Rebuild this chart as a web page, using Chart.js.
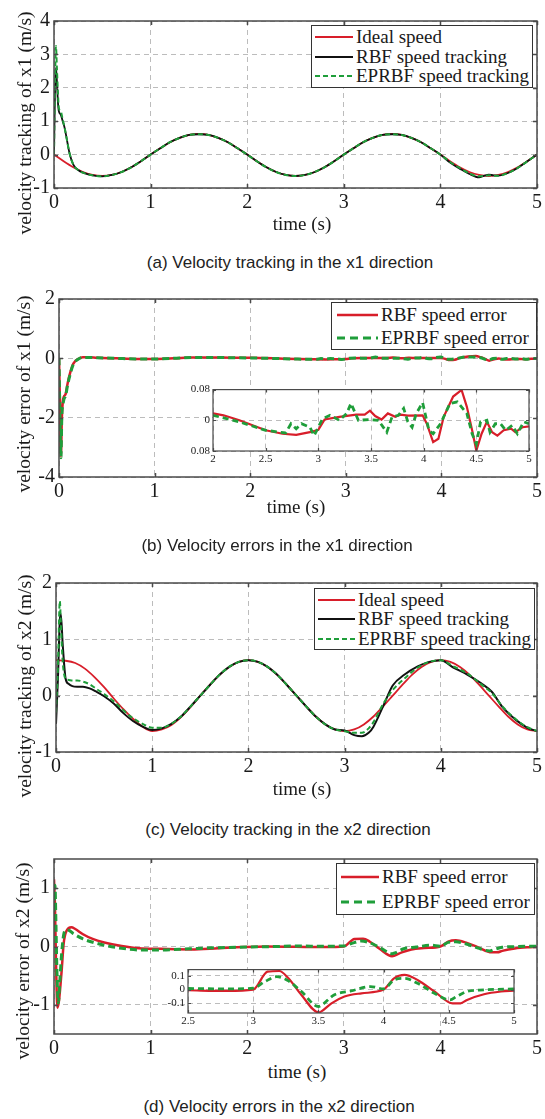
<!DOCTYPE html>
<html>
<head>
<meta charset="utf-8">
<script src="https://cdn.jsdelivr.net/npm/chart.js@4.4.0/dist/chart.umd.min.js"></script>
<style>
  body { margin: 0; background: #fff; }
  #page { position: relative; width: 545px; height: 1119px; overflow: hidden; font-family: "Liberation Serif", "Times New Roman", serif; color: #1a1a1a; }
  canvas { position: absolute; }
  .ttl { position: absolute; font-size: 19px; white-space: nowrap; transform: translate(-50%, -50%); }
  .ttl.y { font-size: 19.5px; transform: translate(-50%, -50%) rotate(-90deg); }
  .cap { position: absolute; font-family: "Liberation Sans", Arial, sans-serif; font-size: 17px; white-space: nowrap; transform: translate(-50%, -50%); color: #222; }
  .legend { position: absolute; box-sizing: border-box; border: 1.5px solid #333; background: #fff; display: flex; flex-direction: column; justify-content: center; }
  .legend .row { display: flex; align-items: center; font-size: 19px; white-space: nowrap; }
  .legend svg { flex: none; }
</style>
</head>
<body>
<div id="page">
  <canvas id="chartA"></canvas>
  <canvas id="chartB"></canvas>
  <canvas id="chartC"></canvas>
  <canvas id="chartD"></canvas>
  <canvas id="insetB"></canvas>
  <canvas id="insetD"></canvas>

  <div class="ttl y" style="left:25px;top:123px">velocity tracking of x1 (m/s)</div>
  <div class="ttl" style="left:302px;top:224px">time (s)</div>
  <div class="cap" style="left:290px;top:263px">(a) Velocity tracking in the x1 direction</div>

  <div class="ttl y" style="left:24px;top:394px">velocity error of x1 (m/s)</div>
  <div class="ttl" style="left:296px;top:507px">time (s)</div>
  <div class="cap" style="left:277px;top:546px">(b) Velocity errors in the x1 direction</div>

  <div class="ttl y" style="left:25px;top:686px">velocity tracking of x2 (m/s)</div>
  <div class="ttl" style="left:302px;top:789px">time (s)</div>
  <div class="cap" style="left:288px;top:830px">(c) Velocity tracking in the x2 direction</div>

  <div class="ttl y" style="left:23px;top:961px">velocity error of x2 (m/s)</div>
  <div class="ttl" style="left:297px;top:1072px">time (s)</div>
  <div class="cap" style="left:279px;top:1107px">(d) Velocity errors in the x2 direction</div>
</div>

<script>
'use strict';

const FONT = "'Liberation Serif', 'Times New Roman', serif";
const RED = '#d81e2a';
const GREEN = '#1f9e3a';
const BLACK = '#111111';

// Společné osy
const xTicksMain = [0, 1, 2, 3, 4, 5];
const xLabelsMain = ['0', '1', '2', '3', '4', '5'];

// ---------- (a) rychlost x1 ----------
const yTicksA = [-1, 0, 1, 2, 3, 4];
const yLabelsA = ['-1', '0', '1', '2', '3', '4'];

const tIdealA = [0, 0.1, 0.2, 0.3, 0.4, 0.5, 0.6, 0.7, 0.8, 0.9,
  1, 1.1, 1.2, 1.3, 1.4, 1.5, 1.6, 1.7, 1.8, 1.9,
  2, 2.1, 2.2, 2.3, 2.4, 2.5, 2.6, 2.7, 2.8, 2.9,
  3, 3.1, 3.2, 3.3, 3.4, 3.5, 3.6, 3.7, 3.8, 3.9,
  4, 4.1, 4.2, 4.3, 4.4, 4.5, 4.6, 4.7, 4.8, 4.9, 5];
const idealA = [0, -0.2, -0.38, -0.52, -0.61, -0.64, -0.61, -0.52, -0.38, -0.2,
  0, 0.19, 0.37, 0.5, 0.59, 0.62, 0.59, 0.5, 0.37, 0.19,
  0, -0.2, -0.38, -0.52, -0.61, -0.64, -0.61, -0.52, -0.38, -0.2,
  0, 0.19, 0.37, 0.5, 0.59, 0.62, 0.59, 0.5, 0.37, 0.19,
  0, -0.2, -0.38, -0.52, -0.61, -0.64, -0.61, -0.52, -0.38, -0.2, 0];

const tTrackA = [0, 0.01, 0.02, 0.03, 0.04, 0.05, 0.07, 0.09, 0.11, 0.13, 0.16, 0.2, 0.25, 0.3, 0.4, 0.5,
  0.6, 0.7, 0.8, 0.9,
  1, 1.1, 1.2, 1.3, 1.4, 1.5, 1.6, 1.7, 1.8, 1.9,
  2, 2.1, 2.2, 2.3, 2.4, 2.5, 2.6, 2.7, 2.8, 2.9,
  3, 3.1, 3.2, 3.3, 3.4, 3.5, 3.6, 3.7, 3.8, 3.9,
  4, 4.1, 4.2, 4.3, 4.4, 4.45, 4.5, 4.55, 4.6, 4.7, 4.8, 4.9, 5];
const rbfA = [0, 1.8, 2.6, 2.2, 1.6, 1.3, 1.2, 1.0, 0.8, 0.5, 0.05, -0.3, -0.46, -0.54, -0.62, -0.65,
  -0.61, -0.52, -0.38, -0.2,
  0, 0.19, 0.37, 0.5, 0.59, 0.61, 0.59, 0.5, 0.37, 0.19,
  0, -0.2, -0.38, -0.52, -0.61, -0.64, -0.61, -0.52, -0.38, -0.2,
  0, 0.19, 0.37, 0.5, 0.59, 0.61, 0.59, 0.5, 0.37, 0.19,
  0, -0.24, -0.42, -0.58, -0.68, -0.64, -0.6, -0.62, -0.63, -0.55, -0.4, -0.2, 0];
const eprbfA = [0, 2.0, 3.25, 2.6, 1.9, 1.4, 1.3, 1.05, 0.8, 0.5, 0.05, -0.3, -0.46, -0.54, -0.62, -0.65,
  -0.61, -0.52, -0.38, -0.2,
  0, 0.19, 0.37, 0.5, 0.59, 0.61, 0.59, 0.5, 0.37, 0.19,
  0, -0.2, -0.38, -0.52, -0.61, -0.64, -0.61, -0.52, -0.38, -0.2,
  0, 0.19, 0.37, 0.5, 0.59, 0.61, 0.59, 0.5, 0.37, 0.19,
  0, -0.22, -0.4, -0.56, -0.65, -0.64, -0.62, -0.63, -0.63, -0.55, -0.4, -0.2, 0];

// ---------- (b) chyba x1 ----------
const yTicksB = [-4, -2, 0, 2];
const yLabelsB = ['-4', '-2', '0', '2'];

const tErrEarlyB = [0, 0.01, 0.02, 0.03, 0.04, 0.05, 0.07, 0.09, 0.12, 0.15, 0.2, 0.25, 0.3, 0.4, 0.6, 0.8, 1.0, 1.2, 1.4, 1.6, 1.8];
const rbfErrEarlyB = [0, -1.5, -3.3, -2.0, -1.45, -1.3, -1.2, -0.85, -0.45, -0.18, -0.02, 0.04, 0.04, 0.02, 0, -0.02, -0.02, 0, 0.03, 0.03, 0.02];
const eprbfErrEarlyB = [0, -2.0, -3.35, -1.9, -1.6, -1.4, -1.25, -0.9, -0.5, -0.2, -0.03, 0.03, 0.03, 0.02, 0, -0.02, -0.02, 0, 0.03, 0.03, 0.02];

// výřez 2 až 5 s
const tRbfLateB = [2, 2.1, 2.25, 2.5, 2.66, 2.79, 2.92, 3.0,
  3.06, 3.2, 3.36, 3.44, 3.49, 3.54, 3.6, 3.66, 3.73, 3.78, 3.85, 3.99,
  4.03, 4.09, 4.14, 4.19, 4.28, 4.36, 4.41, 4.46, 4.5, 4.55, 4.6, 4.65, 4.7, 4.76, 4.83, 4.87, 4.94, 5];
const rbfErrLateB = [0.018, 0.013, 0, -0.026, -0.035, -0.038, -0.031, -0.025,
  0.002, 0.009, 0.015, 0.015, 0.025, 0.011, 0.002, 0.018, 0.009, 0.015, 0.012, 0.013,
  -0.009, -0.057, -0.048, 0.009, 0.062, 0.079, 0.035, -0.026, -0.079, -0.035, -0.004, -0.031, -0.04, -0.026, -0.022, -0.031, -0.018, -0.016];
const tEprbfLateB = [2, 2.25, 2.5, 2.69, 2.74, 2.79, 2.84, 2.92, 2.96,
  3.04, 3.11, 3.2, 3.27, 3.31, 3.38, 3.49, 3.57, 3.65, 3.7, 3.76, 3.81, 3.85, 3.89, 3.93, 3.99,
  4.05, 4.09, 4.16, 4.25, 4.32, 4.41, 4.46, 4.5, 4.54, 4.6, 4.63, 4.68, 4.73, 4.78, 4.84, 4.89, 4.95, 5];
const eprbfErrLateB = [0.013, -0.004, -0.026, -0.033, -0.009, -0.022, -0.009, -0.018, -0.04,
  0.004, 0.013, 0, 0.018, 0.044, 0, 0.002, 0, -0.031, 0.009, 0.013, 0.031, -0.004, -0.018, 0.018, 0.046,
  -0.026, -0.035, -0.009, 0.044, 0.048, 0.018, -0.035, -0.062, -0.004, 0, -0.031, -0.009, -0.009, -0.026, -0.013, -0.035, -0.004, -0.009];

const xTicksInsetB = [2, 2.5, 3, 3.5, 4, 4.5, 5];
const xLabelsInsetB = ['2', '2.5', '3', '3.5', '4', '4.5', '5'];
const yTicksInsetB = [-0.08, 0, 0.08];
const yLabelsInsetB = ['0.08', '0', '0.08'];

// ---------- (c) rychlost x2 ----------
const yTicksC = [-1, 0, 1, 2];
const yLabelsC = ['-1', '0', '1', '2'];

const tIdealC = tIdealA;
const idealC = [0.63, 0.62, 0.58, 0.48, 0.33, 0.15, -0.05, -0.24, -0.41, -0.55,
  -0.63, -0.6, -0.52, -0.38, -0.2, 0, 0.19, 0.37, 0.51, 0.6,
  0.63, 0.6, 0.51, 0.37, 0.19, 0, -0.19, -0.37, -0.51, -0.6,
  -0.63, -0.6, -0.51, -0.37, -0.19, 0, 0.19, 0.37, 0.51, 0.6,
  0.63, 0.6, 0.51, 0.37, 0.19, 0, -0.19, -0.37, -0.51, -0.6, -0.63];

const tTrackC = [0, 0.02, 0.04, 0.05, 0.07, 0.1, 0.13, 0.17, 0.22, 0.28, 0.35, 0.42, 0.5,
  0.6, 0.7, 0.8, 0.9, 1.0,
  1.1, 1.2, 1.3, 1.4, 1.5, 1.6, 1.7, 1.8, 1.9, 2.0,
  2.1, 2.2, 2.3, 2.4, 2.5, 2.6, 2.7, 2.8, 2.9, 3.0,
  3.1, 3.18, 3.25, 3.3, 3.4, 3.5, 3.62, 3.76, 3.88, 4.0,
  4.13, 4.27, 4.42, 4.53, 4.64, 4.78, 4.9, 5.0];
const rbfC = [-0.5, 0.3, 1.35, 1.45, 0.9, 0.3, 0.21, 0.17, 0.16, 0.16, 0.13, 0.07, -0.01,
  -0.14, -0.31, -0.45, -0.55, -0.61,
  -0.58, -0.5, -0.37, -0.19, 0, 0.19, 0.37, 0.51, 0.6, 0.63,
  0.6, 0.51, 0.37, 0.19, 0, -0.19, -0.37, -0.51, -0.6, -0.62,
  -0.7, -0.72, -0.66, -0.55, -0.19, 0.18, 0.37, 0.52, 0.6, 0.63,
  0.5, 0.38, 0.22, 0.07, -0.2, -0.43, -0.57, -0.63];
const eprbfC = [-0.3, 0.5, 1.68, 1.3, 0.6, 0.3, 0.28, 0.27, 0.27, 0.25, 0.2, 0.12, 0.03,
  -0.1, -0.26, -0.4, -0.5, -0.57,
  -0.57, -0.5, -0.37, -0.19, 0, 0.19, 0.37, 0.51, 0.6, 0.63,
  0.6, 0.51, 0.37, 0.19, 0, -0.19, -0.37, -0.51, -0.6, -0.63,
  -0.66, -0.66, -0.58, -0.47, -0.15, 0.1, 0.3, 0.5, 0.6, 0.63,
  0.52, 0.4, 0.2, 0.05, -0.19, -0.42, -0.56, -0.63];

// ---------- (d) chyba x2 ----------
const yTicksD = [-1, 0, 1];
const yLabelsD = ['-1', '0', '1'];

const tRbfEarlyD = [0, 0.01, 0.02, 0.035, 0.05, 0.065, 0.08, 0.1, 0.13, 0.18, 0.22, 0.3, 0.4, 0.52, 0.7, 0.88, 1.1, 1.42, 1.7, 1.96, 2.2];
const rbfErrEarlyD = [1.15, 0.7, -0.2, -1.05, -0.95, -0.7, -0.4, 0.05, 0.27, 0.33, 0.3, 0.21, 0.13, 0.07, 0.01, -0.03, -0.04, -0.05, -0.03, -0.01, 0];
const tEprbfEarlyD = [0, 0.01, 0.02, 0.03, 0.045, 0.06, 0.08, 0.1, 0.12, 0.15, 0.2, 0.3, 0.5, 0.7, 0.9, 1.1, 1.4, 1.7, 2.0, 2.3];
const eprbfErrEarlyD = [0.6, 1.05, 0.4, -0.4, -0.97, -0.6, -0.1, 0.2, 0.28, 0.28, 0.22, 0.13, 0.03, -0.03, -0.06, -0.06, -0.04, -0.02, -0.01, 0];

// výřez 2.5 až 5 s
const tRbfLateD = [2.5, 2.8, 3.0, 3.11, 3.2, 3.27, 3.37, 3.5, 3.52, 3.6, 3.7, 3.83, 4.0, 4.08, 4.16, 4.26, 4.39, 4.53, 4.59, 4.64, 4.77, 4.9, 5];
const rbfErrLateD = [-0.005, -0.01, 0.0, 0.13, 0.135, 0.082, -0.039, -0.165, -0.16, -0.1, -0.05, -0.027, 0.0, 0.082, 0.106, 0.07, -0.014, -0.1, -0.1, -0.075, -0.034, -0.014, -0.007];
const tEprbfLateD = [2.5, 2.8, 3.0, 3.09, 3.18, 3.27, 3.37, 3.5, 3.53, 3.62, 3.75, 3.9, 4.0, 4.08, 4.16, 4.26, 4.39, 4.51, 4.56, 4.64, 4.77, 5];
const eprbfErrLateD = [0.008, 0.005, 0.01, 0.058, 0.094, 0.063, -0.014, -0.123, -0.11, -0.039, -0.01, 0.022, 0.005, 0.07, 0.082, 0.046, -0.027, -0.075, -0.05, -0.014, -0.002, 0.005];

const xTicksInsetD = [2.5, 3, 3.5, 4, 4.5, 5];
const xLabelsInsetD = ['2.5', '3', '3.5', '4', '4.5', '5'];
const yTicksInsetD = [-0.1, 0, 0.1];
const yLabelsInsetD = ['-0.1', '0', '0.1'];

// ---------- pomocné funkce ----------
const pts = (ts, vs) => ts.map((t, i) => ({ x: t, y: vs[i] }));

// order: nižší číslo = kreslí se navrch
function series(label, ts, vs, color, width, dash, order, smooth = true) {
  return {
    label, data: pts(ts, vs), order: order,
    borderColor: color, borderWidth: width, borderDash: dash || [],
    pointRadius: 0, showLine: true, fill: false,
    cubicInterpolationMode: smooth ? 'monotone' : 'default', tension: 0
  };
}

// Rámeček os ve stylu Matlabu (bílé pozadí, obrys, vnitřní značky)
const framePlugin = {
  id: 'matlabFrame',
  beforeDraw: (chart) => {
    const a = chart.chartArea, ctx = chart.ctx;
    ctx.save();
    ctx.fillStyle = '#ffffff';
    ctx.fillRect(a.left, a.top, a.right - a.left, a.bottom - a.top);
    ctx.restore();
  },
  afterDraw: (chart, args, opts) => {
    const a = chart.chartArea, ctx = chart.ctx;
    const tl = opts.tick || 4;
    const sx = chart.scales.x, sy = chart.scales.y;
    ctx.save();
    ctx.strokeStyle = '#4a4a4a';
    ctx.lineWidth = opts.width || 1.5;
    ctx.beginPath();
    sx.ticks.forEach(t => {
      const px = Math.round(sx.getPixelForValue(t.value)) + 0.5;
      ctx.moveTo(px, a.bottom); ctx.lineTo(px, a.bottom - tl);
      ctx.moveTo(px, a.top); ctx.lineTo(px, a.top + tl);
    });
    sy.ticks.forEach(t => {
      const py = Math.round(sy.getPixelForValue(t.value)) + 0.5;
      ctx.moveTo(a.left, py); ctx.lineTo(a.left + tl, py);
      ctx.moveTo(a.right, py); ctx.lineTo(a.right - tl, py);
    });
    ctx.stroke();
    ctx.strokeRect(a.left, a.top, a.right - a.left, a.bottom - a.top);
    ctx.restore();
  }
};

function axis(min, max, ticks, labels, fontSize, pad, fit) {
  return {
    type: 'linear', min: min, max: max,
    afterBuildTicks: (s) => { s.ticks = ticks.map(v => ({ value: v })); },
    afterFit: fit,
    ticks: {
      autoSkip: false, maxRotation: 0, padding: pad, color: '#1a1a1a',
      font: { family: FONT, size: fontSize },
      callback: (v, i) => labels[i]
    },
    grid: { color: '#bcbcbc', lineWidth: 1, drawTicks: false },
    border: { display: false, dash: [5, 4] }
  };
}

// box = poloha plátna na stránce, area = požadovaná plocha grafu
function makeChart(id, box, area, xs, ys, datasets, look) {
  const cv = document.getElementById(id);
  cv.width = box.w; cv.height = box.h;
  cv.style.left = box.x + 'px'; cv.style.top = box.y + 'px';
  return new Chart(cv, {
    type: 'scatter',
    data: { datasets: datasets },
    options: {
      responsive: false, animation: false, devicePixelRatio: 1,
      layout: { padding: { left: 0, top: area.t - box.y, right: box.x + box.w - area.r, bottom: 0 } },
      plugins: {
        legend: { display: false },
        tooltip: { enabled: false },
        matlabFrame: { width: look.frame, tick: look.tick }
      },
      scales: {
        x: axis(xs.min, xs.max, xs.ticks, xs.labels, look.font, look.xpad, (s) => { s.height = box.y + box.h - area.b; }),
        y: axis(ys.min, ys.max, ys.ticks, ys.labels, look.font, look.ypad, (s) => { s.width = area.l - box.x; })
      }
    },
    plugins: [framePlugin]
  });
}

// Legenda jako HTML (skutečný text)
function addLegend(box, rowH, sample, items) {
  const page = document.getElementById('page');
  const div = document.createElement('div');
  div.className = 'legend';
  Object.assign(div.style, { left: box.l + 'px', top: box.t + 'px', width: (box.r - box.l) + 'px', height: (box.b - box.t) + 'px' });
  items.forEach(it => {
    const row = document.createElement('div');
    row.className = 'row';
    row.style.height = rowH + 'px';
    const w = sample.off + sample.len;
    row.innerHTML = `<svg width="${w + sample.gap}" height="8"><line x1="${sample.off}" y1="4" x2="${w}" y2="4" stroke="${it.color}" stroke-width="${it.width}" stroke-dasharray="${it.dash || 'none'}"/></svg><span>${it.text}</span>`;
    div.appendChild(row);
  });
  page.appendChild(div);
}

const mainLook = { font: 20, xpad: 3, ypad: 4, frame: 1.5, tick: 4 };
const insetLook = { font: 11, xpad: 2, ypad: 3, frame: 1.2, tick: 3 };

// (a)
makeChart('chartA', { x: 0, y: 0, w: 545, h: 215 }, { l: 54, r: 537, t: 21, b: 188 },
  { min: 0, max: 5, ticks: xTicksMain, labels: xLabelsMain },
  { min: -1, max: 4, ticks: yTicksA, labels: yLabelsA },
  [
    series('Ideal speed', tIdealA, idealA, RED, 1.8, null, 2),
    series('RBF speed tracking', tTrackA, rbfA, BLACK, 1.8, null, 1),
    series('EPRBF speed tracking', tTrackA, eprbfA, GREEN, 2, [5, 3], 0)
  ], mainLook);

// (b)
makeChart('chartB', { x: 0, y: 280, w: 545, h: 220 }, { l: 59, r: 539, t: 299, b: 477 },
  { min: 0, max: 5, ticks: xTicksMain, labels: xLabelsMain },
  { min: -4, max: 2, ticks: yTicksB, labels: yLabelsB },
  [
    series('RBF speed error', tErrEarlyB.concat(tRbfLateB), rbfErrEarlyB.concat(rbfErrLateB), RED, 2.5, null, 1),
    series('EPRBF speed error', tErrEarlyB.concat(tEprbfLateB), eprbfErrEarlyB.concat(eprbfErrLateB), GREEN, 3, [7, 4], 0)
  ], mainLook);

// (c)
makeChart('chartC', { x: 0, y: 560, w: 545, h: 220 }, { l: 56, r: 539, t: 583, b: 752 },
  { min: 0, max: 5, ticks: xTicksMain, labels: xLabelsMain },
  { min: -1, max: 2, ticks: yTicksC, labels: yLabelsC },
  [
    series('Ideal speed', tIdealC, idealC, RED, 1.8, null, 2),
    series('RBF speed tracking', tTrackC, rbfC, BLACK, 2, null, 1),
    series('EPRBF speed tracking', tTrackC, eprbfC, GREEN, 2, [5, 3], 0)
  ], mainLook);

// (d)
makeChart('chartD', { x: 0, y: 840, w: 545, h: 220 }, { l: 54, r: 538, t: 859, b: 1034 },
  { min: 0, max: 5, ticks: xTicksMain, labels: xLabelsMain },
  { min: -1.5, max: 1.5, ticks: yTicksD, labels: yLabelsD },
  [
    series('RBF speed error', tRbfEarlyD.concat(tRbfLateD), rbfErrEarlyD.concat(rbfErrLateD), RED, 2.5, null, 1),
    series('EPRBF speed error', tEprbfEarlyD.concat(tEprbfLateD), eprbfErrEarlyD.concat(eprbfErrLateD), GREEN, 3, [7, 4], 0)
  ], mainLook);

// výřezy
makeChart('insetB', { x: 180, y: 380, w: 360, h: 90 }, { l: 213, r: 529, t: 389, b: 451 },
  { min: 2, max: 5, ticks: xTicksInsetB, labels: xLabelsInsetB },
  { min: -0.08, max: 0.08, ticks: yTicksInsetB, labels: yLabelsInsetB },
  [
    series('RBF speed error', tRbfLateB, rbfErrLateB, RED, 2.2, null, 1, false),
    series('EPRBF speed error', tEprbfLateB, eprbfErrLateB, GREEN, 2.8, [6, 4], 0, false)
  ], insetLook);

makeChart('insetD', { x: 155, y: 960, w: 370, h: 72 }, { l: 188, r: 514, t: 968, b: 1013 },
  { min: 2.5, max: 5, ticks: xTicksInsetD, labels: xLabelsInsetD },
  { min: -0.17, max: 0.145, ticks: yTicksInsetD, labels: yLabelsInsetD },
  [
    series('RBF speed error', tRbfLateD, rbfErrLateD, RED, 2.2, null, 1),
    series('EPRBF speed error', tEprbfLateD, eprbfErrLateD, GREEN, 2.8, [6, 4], 0)
  ], insetLook);

// legendy
addLegend({ l: 311, r: 533, t: 25, b: 88 }, 19.5, { off: 3, len: 38, gap: 3 }, [
  { text: 'Ideal speed', color: RED, width: 1.8 },
  { text: 'RBF speed tracking', color: BLACK, width: 1.8 },
  { text: 'EPRBF speed tracking', color: GREEN, width: 2, dash: '5 3' }
]);
addLegend({ l: 331, r: 537, t: 302, b: 350 }, 24, { off: 5, len: 41, gap: 3 }, [
  { text: 'RBF speed error', color: RED, width: 2.5 },
  { text: 'EPRBF speed error', color: GREEN, width: 3, dash: '8 5' }
]);
addLegend({ l: 314, r: 535, t: 588, b: 650 }, 19.5, { off: 3, len: 37, gap: 3 }, [
  { text: 'Ideal speed', color: RED, width: 1.8 },
  { text: 'RBF speed tracking', color: BLACK, width: 2 },
  { text: 'EPRBF speed tracking', color: GREEN, width: 2, dash: '5 3' }
]);
addLegend({ l: 336, r: 535, t: 863, b: 915 }, 26, { off: 4, len: 38, gap: 3 }, [
  { text: 'RBF speed error', color: RED, width: 2.5 },
  { text: 'EPRBF speed error', color: GREEN, width: 3, dash: '8 5' }
]);
</script>
</body>
</html>
